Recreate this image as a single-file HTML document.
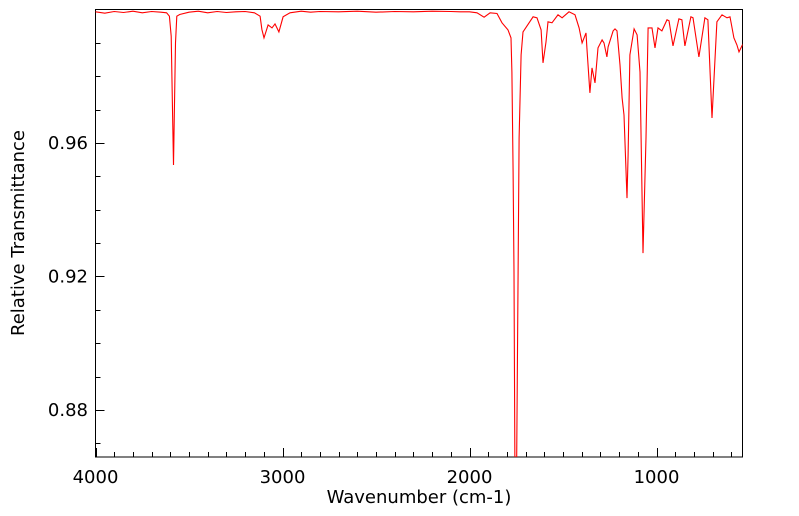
<!DOCTYPE html>
<html><head><meta charset="utf-8"><style>
html,body{margin:0;padding:0;background:#fff;}
svg{display:block;font-family:"DejaVu Sans","Liberation Sans",sans-serif;}
</style></head><body>
<svg id="chart" width="799" height="516" viewBox="0 0 799 516">
<defs><clipPath id="pc"><rect x="95.5" y="9.5" width="647" height="447.5"/></clipPath></defs>
<rect x="95.5" y="9.5" width="647" height="447.5" fill="#fff" stroke="#000" stroke-width="1"/>
<g id="ticks"></g>
<g id="labels"></g>
<path id="line" clip-path="url(#pc)" fill="none" stroke="#ff0000" stroke-width="1.1"/>
<text x="419" y="503" font-size="18" text-anchor="middle">Wavenumber (cm-1)</text>
<text transform="translate(24,233) rotate(-90)" font-size="18" text-anchor="middle">Relative Transmittance</text>
</svg>
<script>
const wavenumbers=[4000,3950,3900,3850,3800,3750,3700,3650,3620,3605,3595,3588,3583,3578,3572,3565,3550,3500,3450,3400,3350,3300,3250,3200,3150,3120,3110,3099,3077,3056,3040,3019,2997,2960,2900,2850,2800,2700,2600,2500,2400,2300,2200,2100,2050,2000,1960,1922,1890,1853,1826,1794,1778,1773,1767,1762,1756,1750,1740,1735,1724,1714,1660,1639,1617,1607,1591,1580,1559,1527,1505,1468,1436,1414,1398,1377,1372,1356,1345,1329,1313,1291,1281,1265,1259,1232,1222,1211,1195,1184,1174,1158,1152,1142,1120,1104,1088,1072,1056,1045,1024,1008,992,971,944,933,912,880,864,848,816,805,773,741,725,703,677,650,623,607,586,570,559,538];
const transmittance=[.9993,.9989,.9994,.9991,.9995,.9990,.9994,.9992,.9990,.998,.992,.970,.9534,.970,.990,.998,.9985,.9992,.9995,.9990,.9994,.9991,.9993,.9994,.9990,.998,.994,.9915,.9954,.9945,.9957,.9933,.9978,.9990,.9995,.9992,.9994,.9993,.9995,.9992,.9994,.9993,.9995,.9994,.9993,.9993,.9990,.9977,.9990,.9988,.996,.9939,.9915,.9813,.9513,.9213,.85,.85,.9213,.9615,.9864,.9933,.9978,.9975,.9939,.984,.9903,.9963,.9960,.9984,.9975,.9993,.9984,.9945,.990,.993,.9885,.975,.9825,.978,.9885,.9909,.990,.9858,.9888,.9936,.9942,.9936,.9834,.9735,.9684,.9435,.9564,.9864,.9942,.9924,.9813,.927,.9615,.9945,.9945,.9885,.9945,.9936,.9969,.9966,.9891,.9972,.9969,.9891,.9978,.9975,.9858,.9975,.9969,.9675,.9963,.9984,.9975,.9978,.9915,.9894,.9873,.9897];
const xTicks=[4000,3000,2000,1000];
const yTicks=[0.88,0.92,0.96];
const X=w=>95.5+(4000-w)*0.187;
const Y=t=>143-(t-0.96)/0.04*133.5;
const ns="http://www.w3.org/2000/svg";
const tg=document.getElementById('ticks'), lg=document.getElementById('labels');
function ln(x1,y1,x2,y2){const l=document.createElementNS(ns,'line');l.setAttribute('x1',x1);l.setAttribute('y1',y1);l.setAttribute('x2',x2);l.setAttribute('y2',y2);l.setAttribute('stroke','#000');l.setAttribute('stroke-width','1');


tg.appendChild(l);}
for(let w=4000;w>=550;w-=100){const x=Math.round(X(w))+0.5;const major=w%1000===0;ln(x,457,x,457-(major?9:5));}
for(let k=0;k<=13;k++){const t=0.87+k*0.01;const y=Y(t);if(y<10||y>457)continue;const major=Math.abs(((t*100)%4))<0.01||Math.abs(((t*100)%4)-4)<0.01;ln(95.5,Math.round(y)+0.5,95.5+(major?9:5),Math.round(y)+0.5);}
xTicks.forEach(w=>{const t=document.createElementNS(ns,'text');t.setAttribute('x',X(w));t.setAttribute('y',483);t.setAttribute('font-size','18');t.setAttribute('text-anchor','middle');t.textContent=w;


lg.appendChild(t);});
yTicks.forEach(v=>{const t=document.createElementNS(ns,'text');t.setAttribute('x',88);t.setAttribute('y',Y(v)+6);t.setAttribute('font-size','18');t.setAttribute('text-anchor','end');t.textContent=v.toFixed(2);


lg.appendChild(t);});
let d='';wavenumbers.forEach((w,i)=>{d+=(i?'L':'M')+X(w).toFixed(1)+' '+Y(transmittance[i]).toFixed(1);});
document.getElementById('line').setAttribute('d',d);
</script>
</body></html>
